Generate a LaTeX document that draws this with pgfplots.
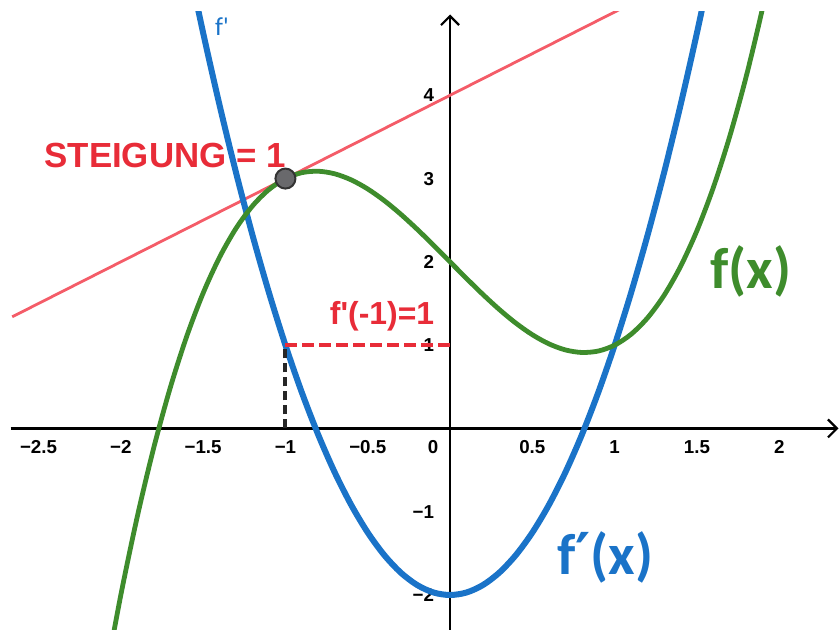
\documentclass[border=0pt]{standalone}
\usepackage{pgfplots}
\pgfplotsset{compat=1.18}
\usepackage{pgfplotstable}
\usepackage{fontspec}
\setmainfont{Liberation Sans}
\newfontfamily\labfont{Liberation Sans}
\newfontfamily\calfont{Carlito}
\newfontfamily\primefont{DejaVu Sans}
\usetikzlibrary{arrows.meta}

\definecolor{fgreen}{RGB}{62,140,44}
\definecolor{fblue}{RGB}{26,115,200}
\definecolor{tanred}{RGB}{244,92,104}
\definecolor{labred}{RGB}{232,44,56}
\definecolor{gridgray}{RGB}{170,172,185}
\definecolor{ptgray}{RGB}{105,105,108}

% f(x) = x^3 - 2x + 2
\pgfplotstableread{
x y
-2.1 -3.061
-2.0 -2.000
-1.9 -1.059
-1.8 -0.232
-1.7 0.487
-1.6 1.104
-1.5 1.625
-1.4 2.056
-1.3 2.403
-1.2 2.672
-1.1 2.869
-1.0 3.000
-0.9 3.071
-0.8 3.088
-0.7 3.057
-0.6 2.984
-0.5 2.875
-0.4 2.736
-0.3 2.573
-0.2 2.392
-0.1 2.199
0.0 2.000
0.1 1.801
0.2 1.608
0.3 1.427
0.4 1.264
0.5 1.125
0.6 1.016
0.7 0.943
0.8 0.912
0.9 0.929
1.0 1.000
1.1 1.131
1.2 1.328
1.3 1.597
1.4 1.944
1.5 2.375
1.6 2.896
1.7 3.513
1.8 4.232
1.9 5.059
2.0 6.000
}\ftable

% f'(x) = 3x^2 - 2
\pgfplotstableread{
x y
-1.6 5.68
-1.5 4.75
-1.4 3.88
-1.3 3.07
-1.2 2.32
-1.1 1.63
-1.0 1.00
-0.9 0.43
-0.8 -0.08
-0.7 -0.53
-0.6 -0.92
-0.5 -1.25
-0.4 -1.52
-0.3 -1.73
-0.2 -1.88
-0.1 -1.97
0.0 -2.00
0.1 -1.97
0.2 -1.88
0.3 -1.73
0.4 -1.52
0.5 -1.25
0.6 -0.92
0.7 -0.53
0.8 -0.08
0.9 0.43
1.0 1.00
1.1 1.63
1.2 2.32
1.3 3.07
1.4 3.88
1.5 4.75
1.6 5.68
}\fptable

\newcommand\tickfont{\fontsize{9.4}{10}\selectfont\bfseries}
\newcommand\xlab[2]{\node[font=\tickfont] at (axis cs:#1,0) [yshift=-9.5bp] {#2};}
\newcommand\ylab[2]{\node[font=\tickfont, anchor=east] at (axis cs:0,#1) [xshift=-4.5bp] {#2};}

\begin{document}
\begin{tikzpicture}
\begin{axis}[
  scale only axis,
  width=419.5bp, height=309bp,
  xmin=-2.734, xmax=2.363,
  ymin=-2.42, ymax=5.0,
  axis lines=none,
  xtick={-2.5,-2,...,2}, ytick={-2,-1,...,5},
  xticklabels={}, yticklabels={},
  major tick length=0pt,
  grid=major,
  major grid style={draw=gridgray, dotted, line width=0.6bp},
  clip mode=individual,
]
\coordinate (bl) at (rel axis cs:0,0);
\coordinate (tr) at (rel axis cs:1,1);

% tick labels
\xlab{-2.5}{−2.5}
\xlab{-2}{−2}
\xlab{-1.5}{−1.5}
\xlab{-1}{−1}
\xlab{-0.5}{−0.5}
\node[font=\tickfont] at (axis cs:0,0) [xshift=-8.5bp,yshift=-9.5bp] {0};
\xlab{0.5}{0.5}
\xlab{1}{1}
\xlab{1.5}{1.5}
\xlab{2}{2}
\ylab{4}{4}
\ylab{3}{3}
\ylab{2}{2}
\ylab{1}{1}
\ylab{-1}{−1}
\ylab{-2}{−2}

% coordinate axes
\draw[black, line width=1.3bp, -{Straight Barb[length=4.5bp,width=9bp,line width=1.1bp]}]
  (axis cs:-2.67,0) -- (axis cs:2.36,0);
\draw[black, line width=1.3bp, -{Straight Barb[length=4.5bp,width=9bp,line width=1.1bp]}]
  (axis cs:0,-2.42) -- (axis cs:0,4.97);

% tangent at x = -1
\addplot[tanred, line width=1.4bp] coordinates {(-2.66,1.34) (1.2,5.2)};

% derivative
\addplot[fblue, line width=3bp, smooth] table {\fptable};
% function
\addplot[fgreen, line width=2.4bp, smooth] table {\ftable};

% helper lines at x = -1
\addplot[black!85, line width=2bp, dash pattern=on 4.5bp off 2.5bp] coordinates {(-1,0) (-1,1)};
\addplot[labred, line width=2bp, dash pattern=on 6bp off 2.5bp] coordinates {(-1,1) (0,1)};

% point of tangency
\addplot[only marks, mark=*, mark size=5bp, mark options={fill=ptgray, draw=black!80, line width=1bp}] coordinates {(-1,3)};

% labels
\node[text=labred, font=\fontsize{17.5}{20}\selectfont\bfseries] at (axis cs:-1.731,3.277) {STEIGUNG = 1};
\node[text=labred, font=\labfont\fontsize{16}{18}\selectfont\bfseries] at (axis cs:-0.413,1.35) {f'(-1)=1};
\node[text=fgreen, font=\calfont\fontsize{29}{32}\selectfont\bfseries] at (axis cs:1.829,1.89) {f(x)};
\node[text=fblue, font=\calfont\fontsize{29}{32}\selectfont\bfseries] at (axis cs:0.942,-1.554) {f{\primefont ′}(x)};
\node[text=fblue, font=\calfont\fontsize{13}{14}\selectfont] at (axis cs:-1.385,4.82) {f'};
\end{axis}
\pgfresetboundingbox
\path (bl) rectangle ([yshift=6bp]tr);
\end{tikzpicture}
\end{document}
